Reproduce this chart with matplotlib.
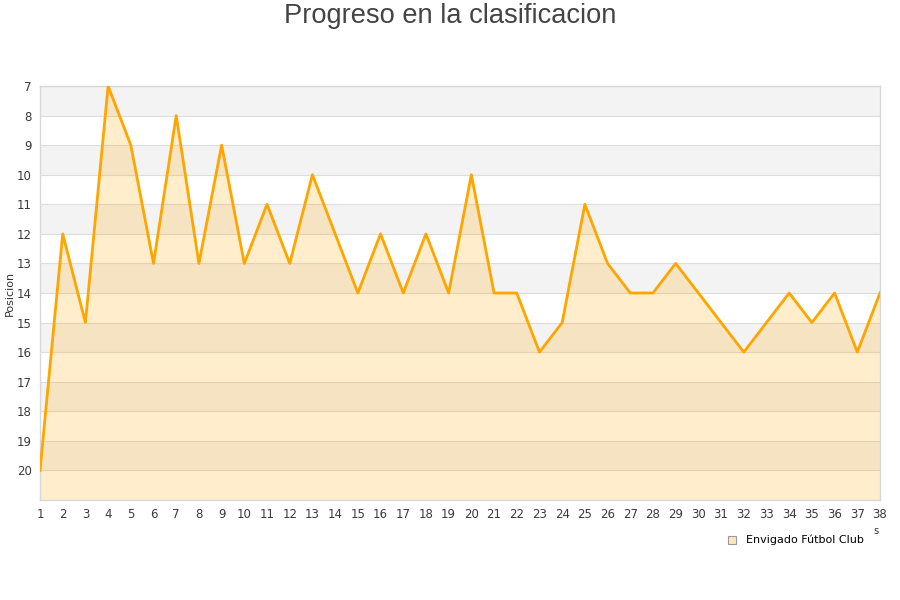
import matplotlib.pyplot as plt
from matplotlib.patches import Rectangle

jornadas = list(range(1, 39))
posicion = [20, 12, 15, 7, 9, 13, 8, 13, 9, 13, 11, 13, 10, 12, 14, 12, 14, 12, 14, 10,
            14, 14, 16, 15, 11, 13, 14, 14, 13, 14, 15, 16, 15, 14, 15, 14, 16, 14]
equipo = 'Envigado Fútbol Club'
y_ticks = list(range(7, 21))

fig = plt.figure(figsize=(9, 6), dpi=100)
ax = fig.add_axes([40 / 900, 1 - 500 / 600, 840 / 900, 414 / 600])

# bandas alternas
for y in range(7, 21, 2):
    ax.axhspan(y, y + 1, color='#f3f3f3', zorder=0, lw=0)
for y in range(7, 22):
    ax.axhline(y, color='#dddddd', lw=0.8, zorder=1)

ax.fill_between(jornadas, posicion, 21, color='#FFA500', alpha=0.2, lw=0, zorder=2)
ax.plot(jornadas, posicion, color='#FFA500', lw=2, zorder=3)

ax.set_xlim(1, 38)
ax.set_ylim(21, 7)
ax.set_xticks(jornadas)
ax.set_yticks(y_ticks)
ax.tick_params(length=0, labelsize=8.5, labelcolor='#3a3a3a', pad=6)
for s in ax.spines.values():
    s.set_color('#d8d8d8')
    s.set_linewidth(1)
ax.set_ylabel('Posicion', fontsize=8, color='#333333', labelpad=1)

fig.text(0.5, 0.995, 'Progreso en la clasificacion', ha='center', va='top',
         fontsize=19.6, color='#444444', family='Liberation Sans')

# leyenda
fig.patches.append(Rectangle((728 / 900, 1 - 544 / 600), 8 / 900, 8 / 600,
                             transform=fig.transFigure, facecolor='#fde5bd',
                             edgecolor='#999999', lw=0.8))
fig.text(746 / 900, 1 - 540 / 600, equipo, ha='left', va='center', fontsize=8, color='black')
fig.text(876 / 900, 1 - 531 / 600, 's', ha='center', va='center', fontsize=7, color='#333333')

fig.savefig('out.png', dpi=100)
